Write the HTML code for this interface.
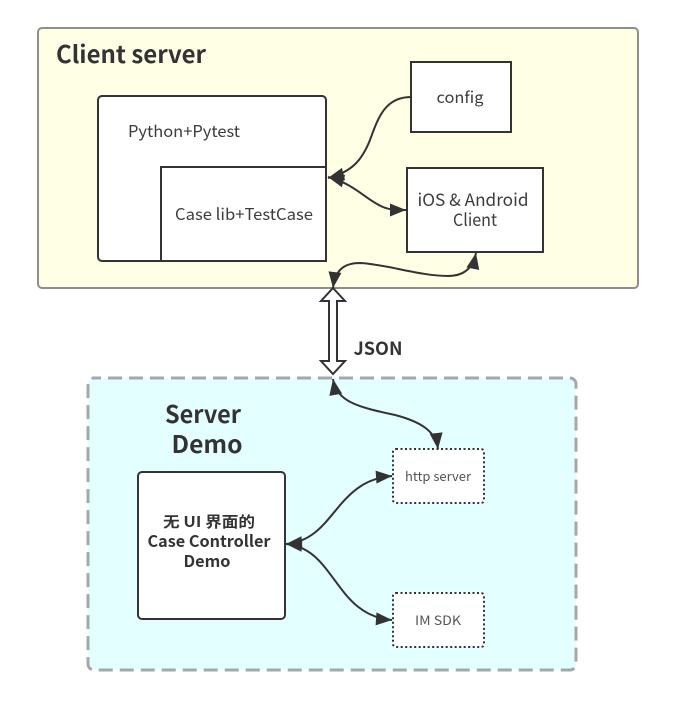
<!DOCTYPE html>
<html>
<head>
<meta charset="utf-8">
<style>
html,body{margin:0;padding:0;background:#fff;width:675px;height:721px;overflow:hidden}
svg{display:block}
text{font-family:"Noto Sans CJK SC","Liberation Sans",sans-serif;fill:#3c3c3c;text-anchor:middle}
.b{font-weight:700;fill:#333}
.s{fill:#555}
</style>
</head>
<body>
<svg width="675" height="721" viewBox="0 0 675 721" xmlns="http://www.w3.org/2000/svg">
<defs>
<marker id="a" markerUnits="userSpaceOnUse" markerWidth="20" markerHeight="16" refX="17" refY="8" orient="auto-start-reverse" overflow="visible">
<path d="M1,1.5 L17,8 L1,14.5 Z" fill="#333"/>
</marker>
</defs>
<rect x="38" y="28" width="600" height="260" rx="4" fill="#ffffe6" stroke="#8f8f8a" stroke-width="2"/>
<rect x="88" y="378" width="488" height="292" rx="6" fill="#e4ffff" stroke="#a3a8a8" stroke-width="3" stroke-dasharray="14 7" stroke-dashoffset="7"/>

<rect x="98" y="96" width="228" height="165" rx="4" fill="#fff" stroke="#333" stroke-width="2"/>
<rect x="161" y="167" width="165" height="94" fill="#fff" stroke="#333" stroke-width="2"/>
<rect x="411" y="62" width="100" height="70" fill="#fff" stroke="#333" stroke-width="2"/>
<rect x="407" y="168" width="136" height="84" fill="#fff" stroke="#333" stroke-width="2"/>
<rect x="138" y="472" width="147" height="147" rx="4" fill="#fff" stroke="#333" stroke-width="2"/>
<rect x="393" y="449" width="91" height="54" rx="3" fill="#fff" stroke="#333" stroke-width="2" stroke-dasharray="2 2.5"/>
<rect x="393" y="593" width="91" height="54" rx="3" fill="#fff" stroke="#333" stroke-width="2" stroke-dasharray="2 2.5"/>

<g fill="none" stroke="#333" stroke-width="2">
<path d="M411,97 C385,97 378,118 370,140 C362,160 352,172 328,178" marker-end="url(#a)"/>
<path d="M328,177 C355,184 366,200 383,207 C390,210 396,210 406,210" marker-start="url(#a)" marker-end="url(#a)"/>
<path d="M333,288 C335,272 342,263 360,263 C385,264 420,276 448,276 C464,276 473,268 476,253" marker-start="url(#a)" marker-end="url(#a)"/>
<path d="M333,379 C337,402 358,407 395,415 C422,422 436,432 438,449" marker-start="url(#a)" marker-end="url(#a)"/>
<path d="M286,544 C335,540 335,480 392,476" marker-start="url(#a)" marker-end="url(#a)"/>
<path d="M286,544 C335,548 335,616 392,620" marker-start="url(#a)" marker-end="url(#a)"/>
</g>

<path d="M333,288 L345,301 L337,301 L337,361 L345,361 L333,374 L321,361 L329,361 L329,301 L321,301 Z" fill="#fff" stroke="#333" stroke-width="2"/>

<text class="b" x="131" y="63" font-size="24" textLength="150" lengthAdjust="spacingAndGlyphs">Client server</text>
<text x="184" y="137" font-size="16" textLength="112" lengthAdjust="spacingAndGlyphs">Python+Pytest</text>
<text x="244" y="220" font-size="16" textLength="138" lengthAdjust="spacingAndGlyphs">Case lib+TestCase</text>
<text x="460" y="103" font-size="16" textLength="47" lengthAdjust="spacingAndGlyphs">config</text>
<text x="473" y="206" font-size="17" textLength="111" lengthAdjust="spacingAndGlyphs">iOS &amp; Android</text>
<text x="475" y="226" font-size="17" textLength="44" lengthAdjust="spacingAndGlyphs">Client</text>
<text class="b" x="378" y="355" font-size="18" textLength="49" lengthAdjust="spacingAndGlyphs">JSON</text>
<text class="b" x="203" y="423" font-size="24" textLength="76" lengthAdjust="spacingAndGlyphs">Server</text>
<text class="b" x="207" y="453" font-size="24" textLength="71" lengthAdjust="spacingAndGlyphs">Demo</text>
<text class="b" x="209" y="527" font-size="15" textLength="92" lengthAdjust="spacingAndGlyphs">无 UI 界面的</text>
<text class="b" x="209" y="547" font-size="16" textLength="123" lengthAdjust="spacingAndGlyphs">Case Controller</text>
<text class="b" x="207" y="567" font-size="16" textLength="47" lengthAdjust="spacingAndGlyphs">Demo</text>
<text class="s" x="438" y="481" font-size="13" textLength="66" lengthAdjust="spacingAndGlyphs">http server</text>
<text class="s" x="438" y="625" font-size="13" textLength="46" lengthAdjust="spacingAndGlyphs">IM SDK</text>
</svg>
</body>
</html>
